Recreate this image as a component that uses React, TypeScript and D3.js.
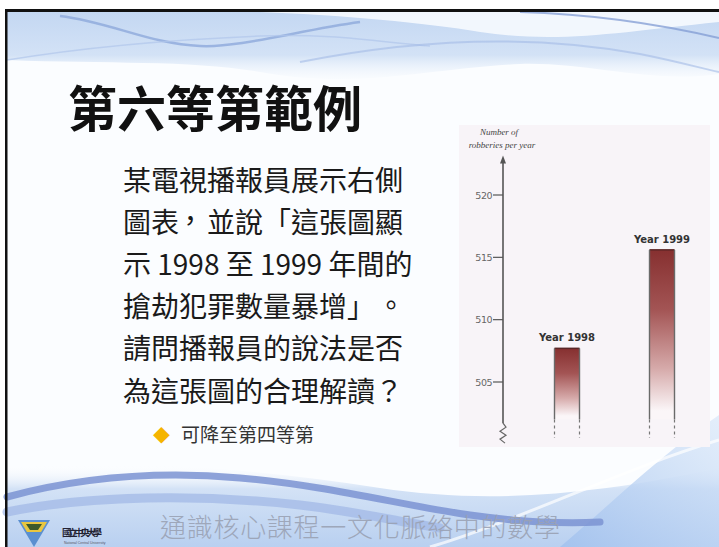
import React from "react";
import * as d3 from "d3";

const years = ["1998", "1999"];
const robberies = [507.7, 515.6];
const yTicks = [505, 510, 515, 520];
const titleText = "第六等第範例";
const bodyLines = [
  "某電視播報員展示右側",
  "圖表，並說「這張圖顯",
  "示 1998 至 1999 年間的",
  "搶劫犯罪數量暴增」。",
  "請問播報員的說法是否",
  "為這張圖的合理解讀？",
];
const bulletText = "可降至第四等第";
const axisTitle = ["Number of", "robberies per year"];
const footerText = "通識核心課程一文化脈絡中的數學";
const uniName = "國立中央大學";

const W = 719;
const H = 547;

// small optical nudges for full-width punctuation (in em)
const punctShift: Record<string, [number, number]> = {
  "，": [-0.1, -0.06],
  "。": [0.07, -0.05],
};

function buildSpans(t: string) {
  const nodes: React.ReactNode[] = [];
  let buf = "";
  let undo: [number, number] | null = null;
  let k = 0;
  const push = () => {
    if (!buf) return;
    nodes.push(
      <tspan
        key={k++}
        dx={undo ? `${-undo[0]}em` : undefined}
        dy={undo ? `${-undo[1]}em` : undefined}
      >
        {buf}
      </tspan>
    );
    buf = "";
    undo = null;
  };
  for (const ch of t) {
    const s = punctShift[ch];
    if (s) {
      push();
      const dx = s[0] - (undo ? undo[0] : 0);
      const dy = s[1] - (undo ? undo[1] : 0);
      nodes.push(
        <tspan key={k++} dx={`${dx}em`} dy={`${dy}em`}>
          {ch}
        </tspan>
      );
      undo = s;
    } else {
      buf += ch;
    }
  }
  push();
  return nodes;
}

export default function App() {
  const y = d3.scaleLinear().domain([505, 520]).range([382, 195]);
  const x = d3.scalePoint<string>().domain(years).range([567, 662]);
  const barW = 25;
  const axisX = 503;
  const barBase = 502;
  const dashEnd = 500.5;
  const axisTop = 523;
  const axisBottom = 501.7;

  const zig = d3.line()([
    [axisX, y(axisBottom)],
    [axisX + 3, y(axisBottom) + 4],
    [axisX - 3, y(axisBottom) + 8],
    [axisX + 3, y(axisBottom) + 12],
    [axisX - 3, y(axisBottom) + 16],
    [axisX + 2, y(axisBottom) + 20],
  ]) as string;

  const cjk = "'Noto Sans CJK TC', 'Noto Sans CJK SC', sans-serif";

  return (
    <svg
      width={W}
      height={H}
      lang="zh-TW"
      style={{ position: "absolute", left: 0, top: 0, display: "block" }}
    >
      <defs>
        <linearGradient id="topBlue" x1="0" y1="0" x2="0" y2="1">
          <stop offset="0" stopColor="#c3d7f2" />
          <stop offset="0.65" stopColor="#d3e2f6" />
          <stop offset="1" stopColor="#f4f8fd" stopOpacity="0.3" />
        </linearGradient>
        <linearGradient id="botBlue" x1="0" y1="0" x2="0" y2="1">
          <stop offset="0" stopColor="#ffffff" stopOpacity="0" />
          <stop offset="0.3" stopColor="#d3e2f6" />
          <stop offset="1" stopColor="#b9d0f0" />
        </linearGradient>
        <linearGradient id="rightBlue" x1="0" y1="1" x2="1" y2="0">
          <stop offset="0" stopColor="#a3c2ee" stopOpacity="0.9" />
          <stop offset="1" stopColor="#d4e4f8" stopOpacity="0.6" />
        </linearGradient>
        <linearGradient id="barGrad" x1="0" y1="0" x2="0" y2="1">
          <stop offset="0" stopColor="#863030" />
          <stop offset="0.35" stopColor="#a35454" />
          <stop offset="0.7" stopColor="#d6aaaa" />
          <stop offset="0.95" stopColor="#fbf6f8" />
        </linearGradient>
      </defs>

      {/* slide background */}
      <rect x={0} y={0} width={W} height={H} fill="#ffffff" />
      <rect x={7} y={11} width={W - 7} height={H - 11} fill="#fbfdff" />

      {/* top swooshes */}
      <path
        d="M7,11 H719 V74 C650,84 590,62 520,64 C430,68 360,90 260,72 C190,60 110,64 7,60 Z"
        fill="url(#topBlue)"
      />
      <path
        d="M230,11 C330,14 420,22 480,32 C560,44 620,32 719,22 V11 Z"
        fill="#f6f9fe"
        opacity={0.9}
      />
      <path
        d="M60,16 C110,22 150,44 200,46 C240,48 300,30 360,22"
        fill="none"
        stroke="#8aa5da"
        strokeWidth={2.5}
        opacity={0.75}
      />
      <path
        d="M7,60 C80,48 160,40 260,36 C330,33 380,42 430,46"
        fill="none"
        stroke="#b0c6eb"
        strokeWidth={1.5}
        opacity={0.7}
      />
      <path
        d="M520,12 C590,14 650,22 719,38"
        fill="none"
        stroke="#809bd3"
        strokeWidth={2}
        opacity={0.75}
      />
      <path
        d="M300,62 C400,42 520,32 640,54 C680,62 700,68 719,72"
        fill="none"
        stroke="#a3bbe6"
        strokeWidth={2}
        opacity={0.6}
      />

      {/* bottom swooshes */}
      <path
        d="M7,468 C120,458 250,468 380,488 C480,503 580,498 719,468 V547 H7 Z"
        fill="url(#botBlue)"
      />
      <path
        d="M560,547 C610,505 660,455 719,415 V547 Z"
        fill="url(#rightBlue)"
      />
      <path
        d="M430,547 C520,520 620,470 719,440"
        fill="none"
        stroke="#ffffff"
        strokeWidth={3}
        opacity={0.7}
      />
      <path
        d="M7,497 C70,480 150,470 240,478 C330,486 400,505 470,515 C520,522 560,524 600,522"
        fill="none"
        stroke="#7b93d2"
        strokeWidth={7}
        strokeLinecap="round"
        opacity={0.85}
      />
      <path
        d="M7,512 C90,495 200,494 300,505 C360,512 400,522 440,528"
        fill="none"
        stroke="#9fb7e5"
        strokeWidth={9}
        strokeLinecap="round"
        opacity={0.7}
      />

      {/* black border */}
      <rect x={5} y={9} width={W - 5} height={3} fill="#111" />
      <rect x={5} y={9} width={2.5} height={H - 9} fill="#111" />

      {/* title */}
      <text
        x={68}
        y={127}
        fontFamily={cjk}
        fontWeight={700}
        fontSize={49}
        fill="#111"
      >
        {titleText}
      </text>

      {/* body text */}
      {bodyLines.map((t, i) => (
        <text
          key={i}
          x={123}
          y={190.6 + i * 42.2}
          fontFamily={cjk}
          fontSize={28}
          fill="#1a1a1a"
          style={{ textSpacingTrim: "space-all" } as React.CSSProperties}
        >
          {buildSpans(t)}
        </text>
      ))}
      <text x={153} y={442} fontFamily={cjk} fontSize={17} fill="#f5b400">
        ◆
      </text>
      <text x={181} y={442} fontFamily={cjk} fontSize={19} fill="#333">
        {bulletText}
      </text>

      {/* chart panel */}
      <rect x={459} y={125} width={251} height={322} fill="#f8f4f8" />

      {/* axis title */}
      {axisTitle.map((t, i) => (
        <text
          key={t}
          x={i === 0 ? 499 : 502}
          y={135 + i * 13}
          textAnchor="middle"
          fontFamily="'Liberation Serif', serif"
          fontStyle="italic"
          fontSize={9}
          fill="#444"
        >
          {t}
        </text>
      ))}

      {/* y axis */}
      <line
        x1={axisX}
        x2={axisX}
        y1={y(axisTop) + 4}
        y2={y(axisBottom)}
        stroke="#555"
        strokeWidth={1.6}
      />
      <path
        d={`M${axisX},${y(axisTop) - 2} L${axisX - 3},${y(axisTop) + 6} L${axisX + 3},${y(axisTop) + 6} Z`}
        fill="#555"
      />
      <path d={zig} fill="none" stroke="#666" strokeWidth={1.2} />
      {yTicks.map((t) => (
        <g key={t}>
          <line
            x1={axisX - 10}
            x2={axisX}
            y1={y(t)}
            y2={y(t)}
            stroke="#555"
            strokeWidth={1.2}
          />
          <text
            x={axisX - 11}
            y={y(t) + 3.5}
            textAnchor="end"
            fontFamily="'DejaVu Sans', sans-serif"
            fontSize={9.5}
            fill="#666"
            letterSpacing={-0.5}
          >
            {t}
          </text>
        </g>
      ))}

      {/* bars */}
      {years.map((yr, i) => {
        const cx = x(yr) as number;
        const top = y(robberies[i]);
        const bot = y(barBase);
        const l = cx - barW / 2;
        const r = cx + barW / 2;
        return (
          <g key={yr}>
            <rect
              x={l}
              y={top}
              width={barW}
              height={bot - top}
              fill="url(#barGrad)"
            />
            <line x1={l} x2={r} y1={top} y2={top} stroke="#5a2626" strokeWidth={1.5} />
            <line x1={l} x2={l} y1={top} y2={bot} stroke="#6a6a6a" strokeWidth={1.4} />
            <line x1={r} x2={r} y1={top} y2={bot} stroke="#6a6a6a" strokeWidth={1.4} />
            <line
              x1={l}
              x2={l}
              y1={bot}
              y2={y(dashEnd)}
              stroke="#777"
              strokeWidth={1.2}
              strokeDasharray="3,3"
            />
            <line
              x1={r}
              x2={r}
              y1={bot}
              y2={y(dashEnd)}
              stroke="#777"
              strokeWidth={1.2}
              strokeDasharray="3,3"
            />
            <text
              x={cx}
              y={top - 7}
              textAnchor="middle"
              fontFamily="'DejaVu Sans', sans-serif"
              fontWeight={700}
              fontSize={10}
              fill="#333"
            >
              {`Year ${yr}`}
            </text>
          </g>
        );
      })}

      {/* footer logo */}
      <path d="M18,520 L50,520 L34,547 Z" fill="#5a8fd0" />
      <path d="M21,522 L47,522 L41,532 L27,532 Z" fill="#e8c640" />
      <path d="M26,524 L42,524 L38,530 L30,530 Z" fill="#3d5a2a" />
      <text
        x={62}
        y={536}
        fontFamily={cjk}
        fontWeight={700}
        fontSize={9.5}
        fill="#223"
        textLength={40}
      >
        {uniName}
      </text>
      <text x={64} y={544} fontFamily="sans-serif" fontSize={3.5} fill="#556">
        National Central University
      </text>
      <text
        x={160}
        y={537}
        fontFamily={cjk}
        fontSize={26}
        fontWeight={300}
        fill="#9aa2b4"
        textLength={400}
        opacity={0.9}
      >
        {footerText}
      </text>
    </svg>
  );
}
